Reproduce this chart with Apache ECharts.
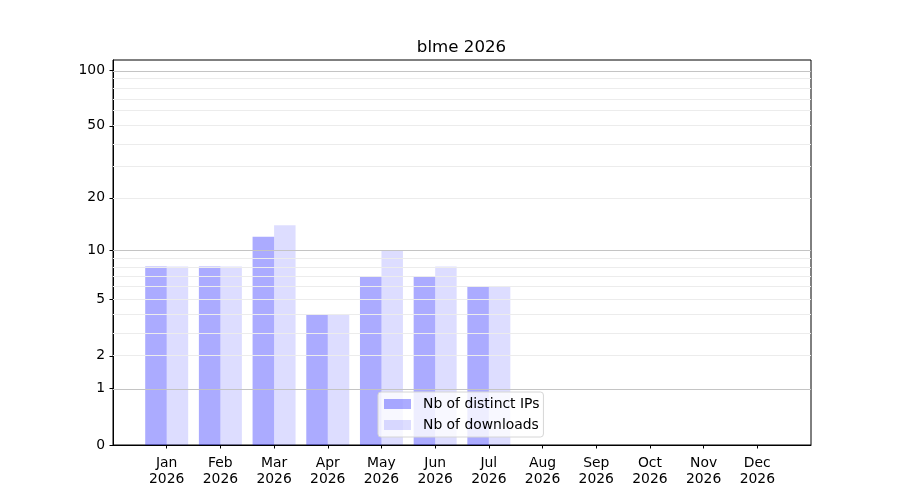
<!DOCTYPE html>
<html>
<head>
<meta charset="utf-8">
<title>blme 2026</title>
<script src="https://cdn.jsdelivr.net/npm/echarts@6/dist/echarts.min.js"></script>
<style>
  html, body { margin: 0; padding: 0; background: #fff; }
  #chart { width: 900px; height: 500px; }
</style>
</head>
<body>
<div id="chart"></div>
<script>
// monthly stats, raw counts
var monthLabels = ['Jan\n2026', 'Feb\n2026', 'Mar\n2026', 'Apr\n2026', 'May\n2026', 'Jun\n2026',
                   'Jul\n2026', 'Aug\n2026', 'Sep\n2026', 'Oct\n2026', 'Nov\n2026', 'Dec\n2026'];
var distinctIPs = [8, 8, 12, 4, 7, 7, 6, 0, 0, 0, 0, 0];
var downloads   = [8, 8, 14, 4, 10, 8, 6, 0, 0, 0, 0, 0];
var yTicks = [0, 1, 2, 5, 10, 20, 50, 100];
var majorGrid = [1, 10, 100];
var minorGrid = [2, 3, 4, 5, 6, 7, 8, 9, 20, 30, 40, 50, 60, 70, 80, 90];

(function() {
  var font = 'DejaVu Sans';
  // y scale is log10(1 + v)
  function f(v) { return Math.log10(1 + v); }

  function toPoints(arr) {
    return arr.map(function(v, i) { return [i, f(v)]; });
  }

  var monthIdx = monthLabels.map(function(m, i) { return i; });

  var gridLines = majorGrid.map(function(v) {
    return { yAxis: f(v), lineStyle: { color: '#c4c4c4', width: 1, type: 'solid' } };
  }).concat(minorGrid.map(function(v) {
    return { yAxis: f(v), lineStyle: { color: '#ececec', width: 1, type: 'solid' } };
  }));

  var chart = echarts.init(document.getElementById('chart'), null, { renderer: 'canvas' });
  chart.setOption({
    animation: false,
    backgroundColor: '#fff',
    title: {
      text: 'blme 2026',
      left: 461.5,
      textAlign: 'center',
      top: 39,
      padding: 0,
      textStyle: { fontFamily: font, fontSize: 16.67, fontWeight: 'normal', color: '#000' }
    },
    legend: {
      orient: 'vertical',
      left: 378,
      top: 392,
      padding: [4, 4, 4, 6],
      itemWidth: 27,
      itemHeight: 10,
      itemGap: 5,
      icon: 'rect',
      backgroundColor: 'rgba(255,255,255,0.8)',
      borderColor: '#d6d6d6',
      borderWidth: 1,
      borderRadius: 3,
      textStyle: { fontFamily: font, fontSize: 13.9, color: '#000', padding: [0, 0, 0, 7], lineHeight: 16 },
      data: ['Nb of distinct IPs', 'Nb of downloads']
    },
    grid: {
      left: 113, right: 89, top: 60, bottom: 55,
      show: true,
      borderColor: '#000',
      borderWidth: 1,
      backgroundColor: 'transparent'
    },
    xAxis: {
      type: 'value',
      min: -1,
      max: 12,
      interval: 1,
      axisLine: { show: true, onZero: false, lineStyle: { color: '#000', width: 1 } },
      axisTick: { show: true, length: 3.5, lineStyle: { color: '#000' }, customValues: monthIdx },
      axisLabel: {
        show: true,
        customValues: monthIdx,
        margin: 10,
        fontFamily: font,
        fontSize: 13.9,
        lineHeight: 16,
        color: '#000',
        formatter: function(val) { return monthLabels[Math.round(val)] || ''; }
      },
      splitLine: { show: false }
    },
    yAxis: {
      type: 'value',
      min: 0,
      max: 2.0594,
      axisLine: { show: true, onZero: false, lineStyle: { color: '#000', width: 1 } },
      axisTick: { show: true, length: 3.5, lineStyle: { color: '#000' }, customValues: yTicks.map(f) },
      axisLabel: {
        show: true,
        customValues: yTicks.map(f),
        margin: 8,
        fontFamily: font,
        fontSize: 13.9,
        color: '#000',
        formatter: function(val) { return String(Math.round(Math.pow(10, val) - 1)); }
      },
      splitLine: { show: false }
    },
    series: [
      {
        name: 'grid',
        type: 'line',
        data: [],
        z: 0,
        silent: true,
        markLine: {
          silent: true,
          symbol: 'none',
          label: { show: false },
          animation: false,
          data: gridLines
        }
      },
      {
        name: 'Nb of distinct IPs',
        type: 'bar',
        data: toPoints(distinctIPs),
        barWidth: 21.5,
        barGap: '0%',
        z: 2,
        itemStyle: { color: 'rgba(0,0,255,0.33)' }
      },
      {
        name: 'Nb of downloads',
        type: 'bar',
        data: toPoints(downloads),
        barWidth: 21.5,
        barGap: '0%',
        z: 2,
        itemStyle: { color: 'rgba(0,0,255,0.135)' }
      }
    ]
  });
  window.addEventListener('resize', function() { chart.resize(); });
})();
</script>
</body>
</html>
